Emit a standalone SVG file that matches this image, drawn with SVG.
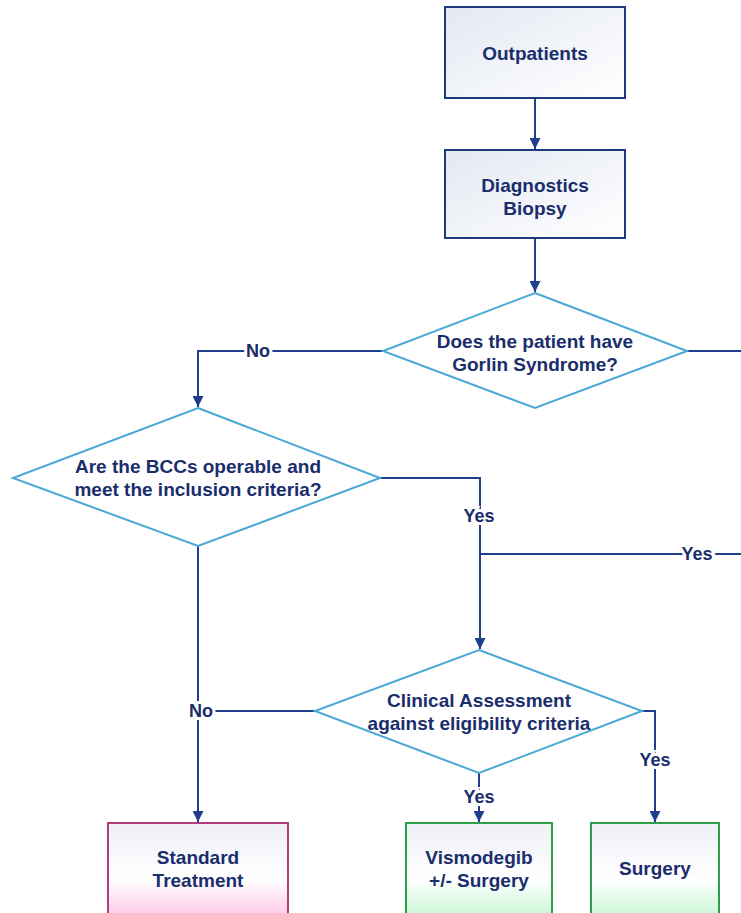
<svg xmlns="http://www.w3.org/2000/svg" width="741" height="913" viewBox="0 0 741 913">
<style>
.box{stroke-width:2}
.navy{stroke:#1F3A7A;fill:url(#gBlue)}
.pink{stroke:#B03C7E;fill:url(#gPink)}
.green{stroke:#2E9E48;fill:url(#gGreen)}
.dia{fill:#FFFFFF;stroke:#4AA8D6;stroke-width:2}
.t{font-family:"Liberation Sans",Arial,sans-serif;font-weight:bold;font-size:19px;fill:#1A2D6C;text-anchor:middle}
.c{fill:none;stroke:#1F3F8C;stroke-width:2}
.lbl{font-family:"Liberation Sans",Arial,sans-serif;font-weight:bold;font-size:18px;fill:#1A2D6C;text-anchor:middle;stroke:#FFFFFF;stroke-width:6;paint-order:stroke}
</style>
<defs>
<linearGradient id="gBlue" x1="0" y1="0" x2="1" y2="1">
<stop offset="0" stop-color="#E3E8F1"/><stop offset="1" stop-color="#FFFFFF"/>
</linearGradient>
<linearGradient id="gPink" x1="0" y1="0" x2="0" y2="1">
<stop offset="0" stop-color="#EEF0F6"/><stop offset="0.6" stop-color="#FFFFFF"/><stop offset="1" stop-color="#FFC8E6"/>
</linearGradient>
<linearGradient id="gGreen" x1="0" y1="0" x2="0" y2="1">
<stop offset="0" stop-color="#EEF0F6"/><stop offset="0.6" stop-color="#FFFFFF"/><stop offset="1" stop-color="#C8F5D4"/>
</linearGradient>
<marker id="arr" viewBox="0 0 10 10" refX="10" refY="5" markerWidth="6" markerHeight="5.5" markerUnits="strokeWidth" orient="auto">
<path d="M0,0 L10,5 L0,10 z" fill="#1F3F8C"/>
</marker>
</defs>
<rect width="741" height="913" fill="#FFFFFF"/>

<g id="connectors">
<path class="c" d="M535,98 V149" marker-end="url(#arr)"/>
<path class="c" d="M535,238 V292" marker-end="url(#arr)"/>
<path class="c" d="M383,351 H198 V407" marker-end="url(#arr)"/>
<path class="c" d="M687,351 H741"/>
<path class="c" d="M380,478 H480 V649" marker-end="url(#arr)"/>
<path class="c" d="M480,554 H741"/>
<path class="c" d="M198,546 V822" marker-end="url(#arr)"/>
<path class="c" d="M315,711 H198"/>
<path class="c" d="M642,711 H655 V822" marker-end="url(#arr)"/>
<path class="c" d="M479,773 V822" marker-end="url(#arr)"/>
<text class="lbl" x="258" y="357">No</text>
<text class="lbl" x="479" y="522">Yes</text>
<text class="lbl" x="697" y="560">Yes</text>
<text class="lbl" x="201" y="717">No</text>
<text class="lbl" x="655" y="766">Yes</text>
<text class="lbl" x="479" y="803">Yes</text>
</g>

<g id="outpatients">
<rect class="box navy" x="445" y="7" width="180" height="91"/>
<text class="t" x="535" y="60">Outpatients</text>
</g>

<g id="diagnostics">
<rect class="box navy" x="445" y="150" width="180" height="88"/>
<text class="t" x="535" y="192">Diagnostics</text>
<text class="t" x="535" y="215">Biopsy</text>
</g>

<g id="gorlin">
<polygon class="dia" points="535,293 687,351 535,408 383,351"/>
<text class="t" x="535" y="348">Does the patient have</text>
<text class="t" x="535" y="371">Gorlin Syndrome?</text>
</g>

<g id="operable">
<polygon class="dia" points="198,408 380,478 198,546 13,478"/>
<text class="t" x="198" y="473">Are the BCCs operable and</text>
<text class="t" x="198" y="496">meet the inclusion criteria?</text>
</g>

<g id="assessment">
<polygon class="dia" points="479,650 642,711 479,773 315,711"/>
<text class="t" x="479" y="707">Clinical Assessment</text>
<text class="t" x="479" y="730">against eligibility criteria</text>
</g>

<g id="standard">
<rect class="box pink" x="108" y="823" width="180" height="94"/>
<text class="t" x="198" y="864">Standard</text>
<text class="t" x="198" y="887">Treatment</text>
</g>

<g id="vismodegib">
<rect class="box green" x="406" y="823" width="146" height="94"/>
<text class="t" x="479" y="864">Vismodegib</text>
<text class="t" x="479" y="887">+/- Surgery</text>
</g>

<g id="surgery">
<rect class="box green" x="591" y="823" width="128" height="94"/>
<text class="t" x="655" y="875">Surgery</text>
</g>
</svg>
